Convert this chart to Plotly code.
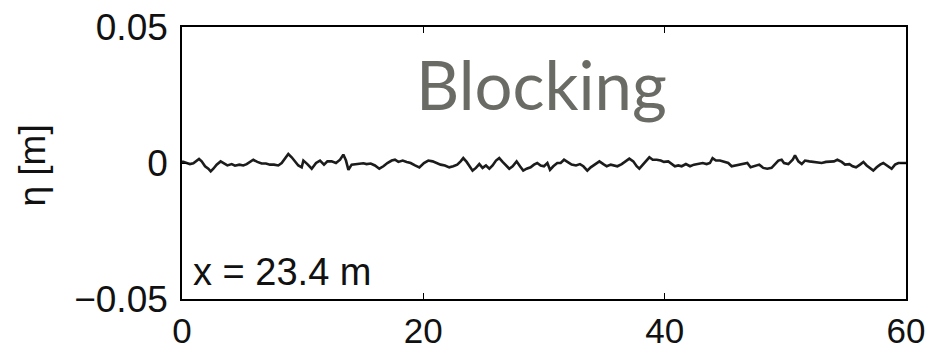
import plotly.graph_objects as go

# Free-surface elevation record at x = 23.4 m (time in s, elevation in m)
t_s = [
    0.0, 0.11, 0.39, 0.66, 0.94, 1.22, 1.41, 1.63, 1.91, 2.18, 2.38, 2.6, 2.87, 3.2, 3.43,
    3.76, 4.12, 4.39, 4.75, 5.08, 5.36, 5.63, 5.91, 6.24, 6.6, 6.96, 7.29, 7.62, 7.98,
    8.26, 8.54, 8.81, 9.09, 9.36, 9.64, 9.92,
    10.06, 10.39, 10.75, 11.11, 11.44, 11.77, 12.05, 12.4, 12.76, 13.1, 13.37, 13.59,
    13.79, 14.06, 14.34, 14.7, 15.03, 15.3, 15.64, 15.99, 16.35, 16.69, 17.02, 17.38,
    17.65, 17.93, 18.29, 18.62, 18.95, 19.31, 19.67,
    20.05, 20.41, 20.77, 21.1, 21.43, 21.79, 22.15, 22.48, 22.81, 23.09, 23.31, 23.59,
    23.86, 24.08, 24.36, 24.64, 24.91, 25.19, 25.47, 25.74, 26.02, 26.29, 26.57, 26.85,
    27.12, 27.4, 27.73, 28.01, 28.28, 28.56, 28.89, 29.17, 29.44, 29.72,
    30.0, 30.28, 30.5, 30.77, 31.1, 31.38, 31.66, 31.94, 32.29, 32.65, 32.98, 33.26,
    33.59, 33.87, 34.23, 34.59, 34.92, 35.2, 35.53, 35.8, 36.08, 36.44, 36.8, 37.07,
    37.4, 37.68, 37.9, 38.18, 38.45, 38.73, 39.01, 39.34, 39.67,
    39.94, 40.3, 40.58, 40.85, 41.13, 41.41, 41.76, 42.1, 42.43, 42.79, 43.15, 43.48,
    43.75, 43.97, 44.25, 44.58, 44.91, 45.27, 45.55, 45.91, 46.24, 46.57, 46.85, 47.12,
    47.48, 47.84, 48.17, 48.5, 48.86, 49.14, 49.42, 49.69,
    49.89, 50.25, 50.61, 50.8, 51.08, 51.36, 51.63, 51.99, 52.32, 52.65, 53.01, 53.37,
    53.7, 54.03, 54.31, 54.67, 54.95, 55.31, 55.58, 55.86, 56.19, 56.47, 56.74, 57.07,
    57.29, 57.57, 57.85, 58.12, 58.46, 58.81, 59.09, 59.37, 59.64, 60.0,
]
eta_m = [
    0.0004, 0.0004, 0.0, -0.0004, -0.0001, 0.0009, 0.0015, 0.0006, -0.0012, -0.0021,
    -0.0031, -0.0021, -0.0006, 0.0006, 0.0001, -0.0009, -0.0004, -0.0010, -0.0006,
    -0.0009, -0.0004, 0.0004, 0.0012, 0.0004, -0.0002, -0.0002, -0.0006, -0.0006,
    -0.0009, 0.0, 0.0018, 0.0033, 0.0021, 0.0006, -0.0009, -0.0016,
    0.0009, -0.0004, -0.0021, 0.0, 0.0009, -0.0006, 0.0006, 0.0006, 0.0, 0.0012,
    0.0031, 0.0009, -0.0025, -0.0006, -0.0004, -0.0004, -0.0001, -0.0004, -0.0002,
    -0.0009, -0.0021, -0.0012, 0.0, 0.0009, 0.0012, 0.0004, 0.0009, 0.0004, 0.0,
    -0.0009, -0.0016,
    0.0, 0.0009, 0.0006, 0.0, -0.0006, -0.0009, -0.0016, -0.0012, -0.0006, 0.0006,
    0.0018, 0.0004, -0.0012, -0.0028, -0.0018, -0.0004, -0.0018, -0.0009, -0.0021,
    -0.0009, 0.0009, 0.0018, 0.0004, -0.0009, -0.0021, -0.0012, 0.0006, -0.0012,
    -0.0028, -0.0021, -0.0016, -0.0006, 0.0, -0.0009,
    -0.0012, 0.0, -0.0025, -0.0012, 0.0, 0.0, 0.0012, 0.0004, -0.0006, -0.0009,
    -0.0004, -0.0012, -0.0028, -0.0016, -0.0004, 0.0006, -0.0004, -0.0012, -0.0006,
    -0.0009, -0.0012, -0.0004, 0.0006, 0.0016, 0.0006, -0.0012, -0.0021, -0.0006,
    0.0006, 0.0021, 0.0012, 0.0012, 0.0009,
    0.0004, 0.0006, -0.0004, -0.0012, -0.0009, -0.0012, -0.0004, -0.0012, -0.0006,
    -0.0004, 0.0, -0.0004, 0.0, 0.0018, 0.0009, 0.0009, 0.0006, 0.0, -0.0012,
    -0.0009, -0.0006, -0.0004, 0.0, -0.0016, -0.0012, -0.0006, -0.0018, -0.0021,
    -0.0018, -0.0004, 0.0009, 0.0012,
    0.0, -0.0004, 0.0012, 0.0028, 0.0006, -0.0004, 0.0009, 0.0006, 0.0004, 0.0004,
    0.0, 0.0004, 0.0004, 0.0006, 0.0012, 0.0004, -0.0006, -0.0004, -0.0012, -0.0016,
    -0.0006, 0.0004, -0.0009, -0.0021, -0.0028, -0.0016, -0.0006, 0.0, -0.0009,
    -0.0021, -0.0006, 0.0, 0.0, 0.0,
]

x_ticks = [0, 20, 40, 60]
y_ticks = [-0.05, 0, 0.05]
y_tick_text = ["\u22120.05", "0", "0.05"]

font_main = "Liberation Sans, Arial, Helvetica, sans-serif"

fig = go.Figure(
    go.Scatter(
        x=t_s,
        y=eta_m,
        mode="lines",
        line=dict(color="#1c1c1c", width=2.6),
        hoverinfo="skip",
    )
)

axis_common = dict(
    showgrid=False,
    zeroline=False,
    showline=True,
    linecolor="#000000",
    linewidth=1.6,
    mirror="ticks",
    ticks="inside",
    ticklen=6,
    tickwidth=1.2,
    tickcolor="#000000",
    automargin=False,
)

fig.update_xaxes(
    range=[0, 60],
    tickvals=x_ticks,
    ticklabelstandoff=0,
    tickfont=dict(family=font_main, size=35, color="#111111"),
    **axis_common,
)
fig.update_yaxes(
    range=[-0.05, 0.05],
    tickvals=y_ticks,
    ticktext=y_tick_text,
    ticklabelstandoff=5,
    tickfont=dict(family=font_main, size=37, color="#111111"),
    **axis_common,
)

fig.add_annotation(
    text="Blocking",
    xref="paper", yref="paper",
    x=0.497, y=0.792,
    xanchor="center", yanchor="middle",
    showarrow=False,
    font=dict(family="Lato, Open Sans, sans-serif", size=67, color="#6b6b66"),
)
fig.add_annotation(
    text="x = 23.4 m",
    xref="paper", yref="paper",
    x=0.012, y=0.1,
    xanchor="left", yanchor="middle",
    showarrow=False,
    font=dict(family=font_main, size=38, color="#111111"),
)
fig.add_annotation(
    text="\u03b7 [m]",
    xref="paper", yref="paper",
    x=-0.206, y=0.49,
    xanchor="center", yanchor="middle",
    textangle=-90,
    showarrow=False,
    font=dict(family=font_main, size=37, color="#111111"),
)

fig.update_layout(
    width=944,
    height=352,
    margin=dict(l=182, r=38, t=27, b=53),
    paper_bgcolor="#ffffff",
    plot_bgcolor="#ffffff",
    showlegend=False,
)

fig.write_html("out.html")
